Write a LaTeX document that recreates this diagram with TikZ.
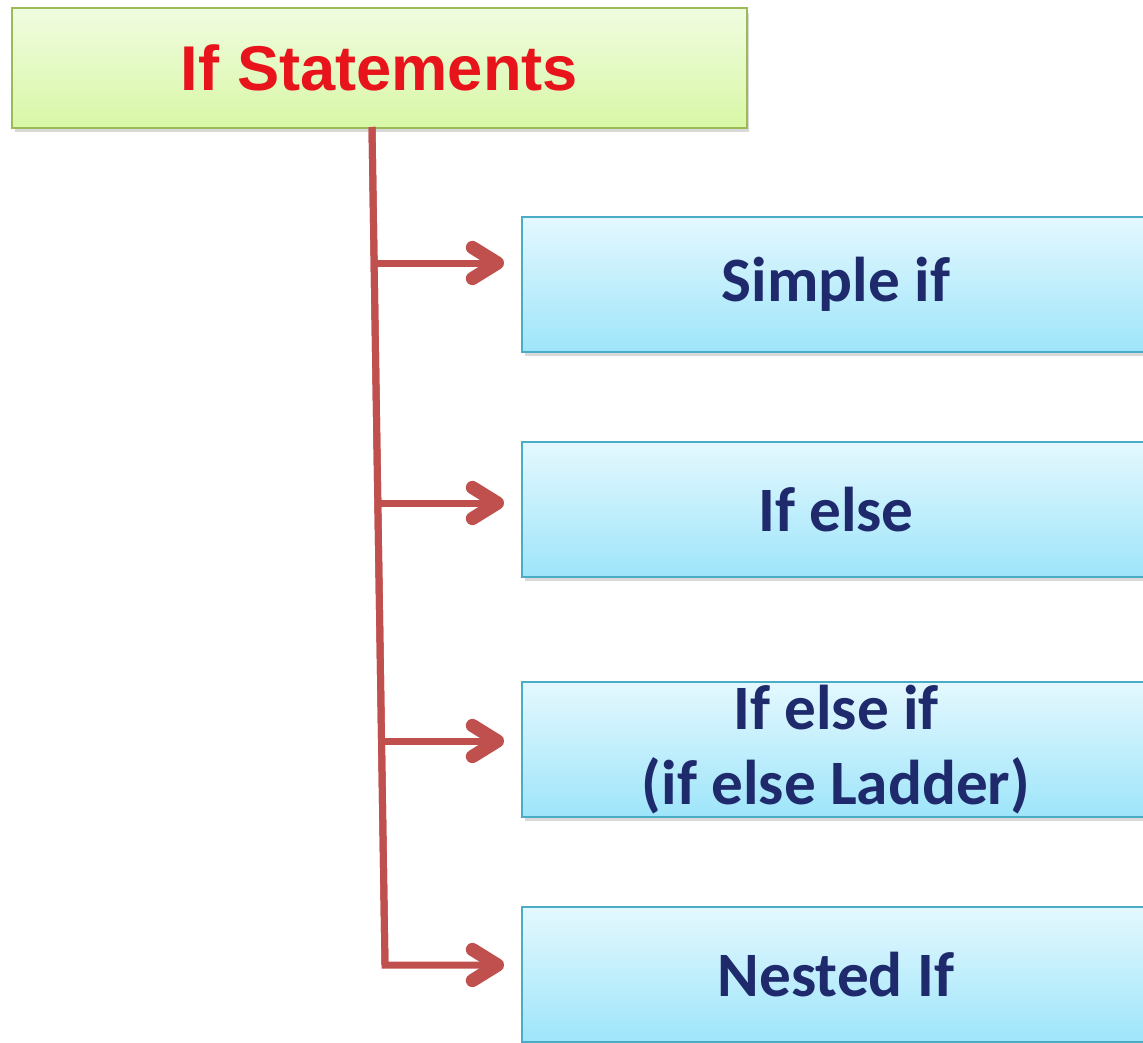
\documentclass[tikz,border=0pt]{standalone}
\usepackage{fontspec}
\usetikzlibrary{arrows.meta,shadows}
\newfontfamily\headfont{Liberation Sans}
\newfontfamily\itemfont{Carlito}

\definecolor{headred}{RGB}{232,20,28}
\definecolor{headborder}{RGB}{155,187,89}
\definecolor{headtop}{RGB}{240,252,224}
\definecolor{headbot}{RGB}{216,247,166}
\definecolor{itemborder}{RGB}{75,172,198}
\definecolor{itemtop}{RGB}{228,248,254}
\definecolor{itembot}{RGB}{158,229,250}
\definecolor{itemtext}{RGB}{30,42,108}
\definecolor{linkred}{RGB}{192,80,77}

\begin{document}
\begin{tikzpicture}[x=0.02cm,y=-0.02cm,
  headbox/.style={draw=headborder, line width=1.1pt, top color=headtop, bottom color=headbot,
    minimum width=14.7cm, minimum height=2.4cm, inner sep=0pt,
    drop shadow={shadow xshift=0.05cm, shadow yshift=-0.09cm, opacity=0.3},
    font=\headfont\bfseries\fontsize{36}{43}\selectfont, text=headred},
  itembox/.style={draw=itemborder, line width=1.1pt, top color=itemtop, bottom color=itembot,
    minimum width=12.56cm, minimum height=2.7cm, inner sep=0pt, align=center,
    drop shadow={shadow xshift=0.05cm, shadow yshift=-0.09cm, opacity=0.3},
    font=\itemfont\bfseries\fontsize{36}{43}\selectfont, text=itemtext},
  trunk/.style={draw=linkred, line width=0.14cm, line join=miter},
  branch/.style={draw=linkred, line width=0.14cm, shorten >=0.34cm,
    -{Straight Barb[length=0.5cm, width=0.62cm, line width=0pt 1.9, round]}}
]
\useasboundingbox (0,0) rectangle (1143,1042);

\node[headbox] (title) at (379.5,68) {If Statements};

\node[itembox] (n1) at (836,284.5) {Simple if};
\node[itembox] (n2) at (836,509.5) {If else};
\node[itembox] (n3) at (836,749.5) {If else if\\[0pt](if else Ladder)};
\node[itembox] (n4) at (836,974.5) {Nested If};

% points on the slanted trunk where the branches leave it
\coordinate (top) at (372,127);
\coordinate (c1) at (374.1,263);
\coordinate (c2) at (377.8,503);
\coordinate (c3) at (381.5,741);
\coordinate (c4) at (385,965);

\draw[trunk] (top) -- (c4);
\draw[branch] (c1) -- (c1 -| n1.west);
\draw[branch] (c2) -- (c2 -| n2.west);
\draw[branch] (c3) -- (c3 -| n3.west);
\draw[branch] (top) -- (c4) -- (c4 -| n4.west);
\end{tikzpicture}
\end{document}
